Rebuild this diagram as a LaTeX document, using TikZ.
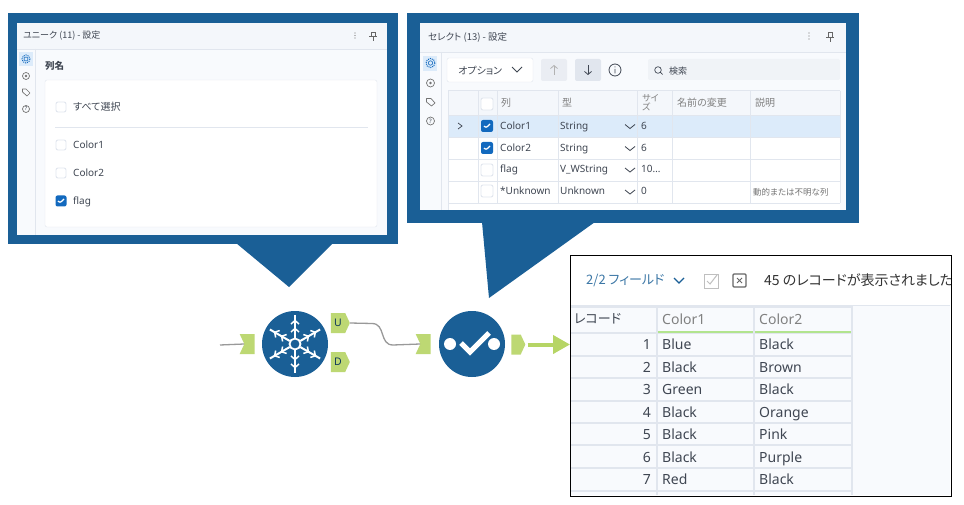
\documentclass[tikz,border=0pt]{standalone}
\usepackage{fontspec}
\setmainfont{Noto Sans}
\newfontfamily\jpfont[RawFeature={+palt}]{Noto Sans CJK JP}
\usetikzlibrary{arrows.meta,shapes.symbols}
\definecolor{toolblue}{HTML}{1A5F96}
\definecolor{anchorgreen}{HTML}{BDD873}
\definecolor{arrowgreen}{HTML}{B6D565}
\definecolor{panelbg}{HTML}{F8FAFD}
\definecolor{headbg}{HTML}{F4F7FB}
\definecolor{gridline}{HTML}{E1E6EE}
\definecolor{uitext}{HTML}{3F4652}
\definecolor{checkblue}{HTML}{1269BE}
\definecolor{rowblue}{HTML}{DCEBFA}
\definecolor{headgreen}{HTML}{B2E48E}
\tikzset{
	txt/.style={anchor=west,inner sep=0pt,text=uitext,text height=8pt,text depth=2.5pt,font=\fontsize{10}{12}\selectfont},
	jptxt/.style={anchor=west,inner sep=0pt,text=uitext,font=\jpfont\fontsize{10}{12}\selectfont},
	datatxt/.style={anchor=west,inner sep=0pt,text=uitext,text height=10.5pt,text depth=3pt,font=\fontsize{14}{16}\selectfont},
	chkoff/.style={draw=gridline,fill=white,line width=0.9pt,rounded corners=2pt,minimum size=10pt,inner sep=0pt},
	chkon/.style={fill=checkblue,rounded corners=2pt,minimum size=12pt,inner sep=0pt,
		path picture={\draw[white,line width=1.2pt] ([shift={(-3,0)}]path picture bounding box.center) -- ++(2,2) -- ++(4,-4);}},
	tool/.style={circle,fill=toolblue,minimum size=66pt,inner sep=0pt},
	inanchor/.style={signal,signal from=west,signal to=nowhere,signal pointer angle=130,fill=anchorgreen,minimum width=15pt,minimum height=20pt,inner sep=0pt},
	outanchor/.style={signal,signal to=east,signal pointer angle=130,fill=anchorgreen,minimum width=19pt,minimum height=20pt,inner sep=0pt,font=\bfseries\fontsize{10.5}{10.5}\selectfont,text=toolblue!60!black},
	wire/.style={draw=black!40,line width=1.3pt},
	icon/.style={draw=black!55,line width=0.7pt},
	barb/.style={-{Straight Barb[length=3pt,width=7pt]}},
}
\begin{document}
\begin{tikzpicture}[x=1pt,y=-1pt,>=latex]
	\useasboundingbox (0,0) rectangle (964,505);
	\fill[white] (0,0) rectangle (964,505);

	% left panel
	\fill[toolblue] (8,13) rectangle (398,244);
	\fill[toolblue] (236,243) -- (333,243) -- (289,287) -- cycle;
	\fill[panelbg] (17,23) rectangle (387,235);
	\fill[headbg] (17,23) rectangle (387,49);
	\draw[gridline] (17,49) -- (387,49);
	\draw[gridline] (35,49) -- (35,235);
	\node[jptxt,font=\jpfont\fontsize{9}{10}\selectfont] (unititle) at (23,36) {ユニーク (11) - 設定};
	\node[jptxt,font=\jpfont\bfseries\fontsize{9.5}{11}\selectfont] (unicol) at (45,66) {列名};
	\draw[gridline,fill=white,rounded corners=2pt] (45,80) rectangle (377,227);
	\draw[gridline] (55,127) -- (368,127);
	\node[chkoff] (uniall) at (61,107) {};
	\node[jptxt] (unialltxt) at (73,107) {すべて選択};
	\node[chkoff] (unic1) at (61,145) {};
	\node[txt] (unic1txt) at (73,145.5) {Color1};
	\node[chkoff] (unic2) at (61,173) {};
	\node[txt] (unic2txt) at (73,173.5) {Color2};
	\node[chkon,minimum size=11pt] (unifl) at (61,201) {};
	\node[txt] (unifltxt) at (73,201.5) {flag};

	% left panel icons
	\fill[rowblue] (19,52) rectangle (33,66);
	\draw[checkblue,line width=1pt,densely dotted] (26,59) circle (4);
	\draw[checkblue,line width=0.6pt] (26,59) circle (2);
	\draw[icon] (26,76) circle (3.5);
	\fill[black!55] (26,76) circle (1.3);
	\draw[icon,line join=round] (22.5,89) -- (26,89) -- (30,93) -- (27,96) -- (22.5,92) -- cycle;
	\draw[icon] (26,109) circle (3.5);
	\node[txt,anchor=center,text height=,text depth=,font=\fontsize{5.5}{6}\selectfont] (uniqmark) at (26,109) {?};
	\fill[black!55] (355,33) circle (0.7) (355,35.5) circle (0.7) (355,38) circle (0.7);
	\draw[black!60,line width=0.9pt] (371,32) rectangle (375,36) (369,36.5) -- (377,36.5) (373,36) -- (373,41);

	% right panel
	\fill[toolblue] (407,13) rectangle (859,223);
	\fill[toolblue] (482,222) -- (595,222) -- (489,298) -- cycle;
	\fill[panelbg] (420,23) rectangle (846,210);
	\fill[headbg] (420,23) rectangle (846,52);
	\draw[gridline] (420,52) -- (846,52);
	\draw[gridline] (441,52) -- (441,210);
	\node[jptxt,font=\jpfont\fontsize{9.5}{11}\selectfont] (seltitle) at (428,37) {セレクト (13) - 設定};
	\fill[rowblue] (423,56) rectangle (437,71);
	\draw[checkblue,line width=1pt,densely dotted] (430.5,63) circle (4.5);
	\draw[checkblue,line width=0.6pt] (430.5,63) circle (2.2);
	\draw[icon] (430.5,83) circle (4);
	\fill[black!55] (430.5,83) circle (1.4);
	\draw[icon,line join=round] (426.5,98.5) -- (431,98.5) -- (435,103) -- (431.5,106) -- (426.5,102) -- cycle;
	\draw[icon] (430.5,121) circle (4);
	\node[txt,anchor=center,text height=,text depth=,font=\fontsize{6}{6}\selectfont] (selqmark) at (430.5,121) {?};
	\fill[black!55] (809,33) circle (0.7) (809,36) circle (0.7) (809,39) circle (0.7);
	\draw[black!60,line width=0.9pt] (828,32) rectangle (832,37) (826,37.5) -- (834,37.5) (830,37) -- (830,42);

	% toolbar of the right panel
	\draw[gridline,fill=white,rounded corners=2pt] (447,58) rectangle (533,82);
	\node[jptxt] (seloption) at (458,71) {オプション};
	\draw[uitext,line width=1pt] (512,67) -- (517,72) -- (522,67);
	\fill[gridline!70,rounded corners=2pt] (541,59) rectangle (567,81);
	\fill[gridline,rounded corners=2pt] (575,59) rectangle (601,81);
	\draw[black!30,line width=0.8pt,barb] (554,75) -- (554,65);
	\draw[uitext,line width=0.8pt,barb] (588,65) -- (588,75);
	\draw[uitext,line width=0.8pt] (615,70) circle (6) (615,69) -- (615,73.5) (615,66.5) -- (615,67.5);
	\fill[gridline!50,rounded corners=2pt] (648,59) rectangle (840,80);
	\draw[uitext,line width=0.7pt] (658,70) circle (3.3) (660.5,72.5) -- (662.5,74.5);
	\node[jptxt,font=\jpfont\fontsize{9}{10}\selectfont] (selsearch) at (669,71) {検索};

	% table of the right panel
	\fill[white] (448,91) rectangle (840,210);
	\fill[headbg] (448,91) rectangle (840,115);
	\fill[rowblue] (448,115) rectangle (840,137);
	\foreach \x in {478,497,558,637,672,750} {
			\draw[gridline] (\x,91) -- (\x,203);
		}
	\foreach \y in {115,137,159,181,203} {
			\draw[gridline] (448,\y) -- (840,\y);
		}
	\draw[gridline,line width=1pt] (448,91) -- (840,91) (448,91) -- (448,210) (840,91) -- (840,203);
	\node[chkoff,minimum size=12pt] (selall) at (487,104) {};
	\node[jptxt,text=black!50] (selcol) at (501,103) {列};
	\node[jptxt,text=black!50] (seltype) at (562,103) {型};
	\node[jptxt,text=black!50,align=left,font=\jpfont\fontsize{9}{9.5}\selectfont] (selsize) at (642,102.5) {サイ\\ズ};
	\node[jptxt,text=black!50] (selrename) at (677,103) {名前の変更};
	\node[jptxt,text=black!50] (seldesc) at (755,103) {説明};
	\draw[uitext,line width=0.7pt] (458,123) -- (462,126) -- (458,129);
	\foreach \r/\y/\nm/\ty/\sz in {1/126.5/Color1/String/6,2/148.5/Color2/String/6,3/170/flag/V\_WString/10\ldots,4/192/*Unknown/Unknown/0} {
			\node[txt] (selname\r) at (500,\y) {\nm};
			\node[txt] (seltype\r) at (560,\y) {\ty};
			\node[txt] (selsize\r) at (641,\y) {\sz};
			\draw[uitext,line width=0.8pt] (625,\y-2) -- (630,\y+2) -- (635,\y-2);
		}
	\node[chkon] (selchk1) at (487,126) {};
	\node[chkon] (selchk2) at (487,148) {};
	\node[chkoff,minimum size=12pt] (selchk3) at (487,170) {};
	\node[chkoff,minimum size=12pt] (selchk4) at (487,191) {};
	\node[jptxt,font=\jpfont\fontsize{8.5}{10}\selectfont,text=black!55] (seldyn) at (753,192) {動的または不明な列};

	% result window
	\node[draw=black,fill=white,line width=0.8pt,anchor=north west,minimum width=381pt,minimum height=241pt,inner sep=0pt] (result) at (570,255) {};
	\fill[panelbg] (571,306) rectangle (950,495);
	\draw[gridline] (571,305) -- (950,305);
	\node[jptxt,font=\jpfont\fontsize{13}{15}\selectfont,text=toolblue!85] (resfield) at (586,281) {2/2 フィールド};
	\draw[toolblue,line width=1.3pt] (674,278) -- (679,283) -- (684,278);
	\draw[black!25,line width=1pt] (704,274) rectangle (718,288);
	\draw[black!25,line width=1pt] (707,281) -- (710,284) -- (717,275);
	\draw[black!60,line width=1.2pt,rounded corners=1pt] (733,274) rectangle (746,287);
	\draw[black!60,line width=1pt] (737,278) -- (742,283) (742,278) -- (737,283);
	\node[jptxt,font=\jpfont\fontsize{14}{16}\selectfont,text=black!80] (rescount) at (764,280) {45 のレコードが表示されました};

	% result table
	\foreach \x in {657,754,852} {
			\draw[gridline,line width=1.5pt] (\x,306) -- (\x,495);
		}
	\draw[gridline,line width=1.5pt] (571,307) -- (852,307);
	\foreach \y in {333,356,378,401,423,445,468,491} {
			\draw[gridline,line width=1.5pt] (571,\y) -- (852,\y);
		}
	\draw[headgreen,line width=2pt] (658,331.5) -- (753,331.5) (755,331.5) -- (851,331.5);
	\node[jptxt,font=\jpfont\fontsize{13}{15}\selectfont] (resrec) at (574,319) {レコード};
	\node[datatxt,text=black!50] (rescol1) at (662,321) {Color1};
	\node[datatxt,text=black!50] (rescol2) at (759,321) {Color2};
	\foreach \n/\a/\b/\y in {1/Blue/Black/346,2/Black/Brown/368.5,3/Green/Black/391,4/Black/Orange/413.5,5/Black/Pink/436,6/Black/Purple/458.5,7/Red/Black/481} {
			\node[datatxt,anchor=east] (resnum\n) at (651,\y) {\n};
			\node[datatxt] (resa\n) at (662,\y) {\a};
			\node[datatxt] (resb\n) at (759,\y) {\b};
		}
	\draw[line width=0.8pt] (result.north west) rectangle (result.south east);

	% workflow
	\node[tool] (unique) at (295,344) {};
	\node[tool] (select) at (472,344) {};
	\node[inanchor] (inuni) at (249.5,344) {};
	\node[inanchor] (insel) at (425.5,344) {};
	\node[outanchor] (uout) at (338,323) {U};
	\node[outanchor] (dout) at (338,362) {D};
	\node[outanchor,minimum width=14pt] (outsel) at (516,344.5) {};
	\coordinate (wirestart) at (220,345);
	\draw[wire] (wirestart) -- (inuni.west);
	\draw[wire] (uout.east) -- (372,323.5) .. controls (386,323.5) and (379,345) .. (393,345) -- (insel.west);
	\draw[arrowgreen,line width=4pt,-{Triangle[length=17pt,width=18pt]}] (outsel.east) ++(2,0) -- (result.west |- outsel);

	% snowflake
	\foreach \a in {30,90,150,210,270,330} {
			\begin{scope}[shift={(unique.center)},rotate=\a]
				\draw[white,line width=2pt] (6,0) -- (29,0);
				\draw[white,line width=1.5pt] (12,-4) -- (15.5,0) -- (12,4) (20,-4) -- (23.5,0) -- (20,4);
			\end{scope}
		}
	\draw[white,line width=1.8pt] (unique.center) circle (5.5);

	% check mark
	\fill[white] (select.center) ++(-22,0) circle (6);
	\fill[white] (select.center) ++(22,0) circle (6);
	\draw[white,line width=5pt] (select.center) ++(-11,-1) -- ++(9,9) -- ++(19,-19);
\end{tikzpicture}
\end{document}
